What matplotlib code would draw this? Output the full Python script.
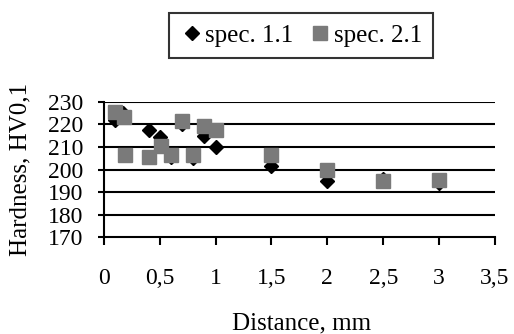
import numpy as np
import matplotlib
matplotlib.use("Agg")
import matplotlib.pyplot as plt

# %% Daten
dist_11 = [0.1, 0.17, 0.4, 0.5, 0.6, 0.7, 0.8, 0.9, 1.0, 1.5, 2.0, 2.5, 3.0]
hard_11 = [222, 225, 217.5, 214.5, 205.5, 220, 205, 215, 210, 201.5, 195, 196, 194]

dist_21 = [0.1, 0.18, 0.19, 0.4, 0.51, 0.6, 0.7, 0.8, 0.9, 1.0, 1.5, 2.0, 2.5, 3.0]
hard_21 = [225.5, 223.5, 206.5, 205.5, 210.5, 206.5, 221.5, 206.5, 219.5, 217.5, 206.5, 200, 195, 195.5]

x_ticks = [0, 0.5, 1, 1.5, 2, 2.5, 3, 3.5]
x_ticklabels = ["0", "0,5", "1", "1,5", "2", "2,5", "3", "3,5"]
y_ticks = [170, 180, 190, 200, 210, 220, 230]

# %% Plot
plt.rcParams["font.family"] = ["Liberation Serif", "DejaVu Serif"]
fig = plt.figure(figsize=(5.14, 3.34), dpi=100)
ax = fig.add_axes([0.202, 0.29, 0.761, 0.405])

for y in y_ticks[1:]:
    ax.axhline(y, color="black", lw=1.5, zorder=1)

ax.plot(dist_11, hard_11, "D", color="black", markersize=7.5, ls="none",
        label="spec. 1.1", zorder=3)
ax.plot(dist_21, hard_21, "s", color="#7a7a7a", markersize=9.5, ls="none",
        label="spec. 2.1", zorder=4)

ax.set_xlim(0, 3.5)
ax.set_ylim(170, 230)
ax.set_xticks(x_ticks)
ax.set_xticklabels(x_ticklabels)
ax.set_yticks(y_ticks)
ax.tick_params(labelsize=17, width=1.5, color="black")
ax.tick_params(axis="x", length=6, pad=16)
ax.tick_params(axis="y", length=4, pad=11)
for s in ["top", "right"]:
    ax.spines[s].set_visible(False)
for s in ["left", "bottom"]:
    ax.spines[s].set_linewidth(1.5)

ax.set_ylabel("Hardness, HV0,1", fontsize=18, va="center")
ax.yaxis.set_label_coords(-0.213, 0.5)
ax.set_xlabel("Distance, mm", fontsize=18, va="center")
ax.xaxis.set_label_coords(0.505, -0.64)

leg = ax.legend(loc="center", bbox_to_anchor=(0.586, 0.894), bbox_transform=fig.transFigure,
                ncol=2, fontsize=18, frameon=True, fancybox=False,
                handletextpad=0.1, columnspacing=0.6, handlelength=0.9,
                borderpad=0.45)
leg.get_frame().set_edgecolor("black")
leg.get_frame().set_linewidth(1.5)

plt.savefig("out.png", dpi=100)
